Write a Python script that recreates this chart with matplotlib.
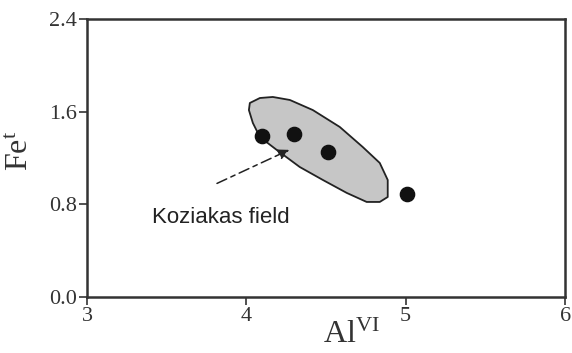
import matplotlib
matplotlib.use('Agg')
import matplotlib.pyplot as plt
from matplotlib.patches import Polygon

plt.rcParams['mathtext.fontset'] = 'custom'
plt.rcParams['mathtext.rm'] = 'Liberation Serif'
plt.rcParams['mathtext.it'] = 'Liberation Serif'

# sample points (Al VI vs Fe total)
al_vi = [4.10, 4.30, 4.51, 5.01]
fe_t = [1.39, 1.41, 1.25, 0.89]

# outline of the Koziakas field
field_x = [4.022, 4.085, 4.166, 4.273, 4.417, 4.586, 4.730, 4.837, 4.887, 4.887,
           4.837, 4.755, 4.630, 4.480, 4.335, 4.191, 4.085, 4.041, 4.016]
field_y = [1.675, 1.718, 1.727, 1.701, 1.614, 1.468, 1.295, 1.157, 1.010, 0.863,
           0.820, 0.820, 0.898, 1.010, 1.122, 1.269, 1.381, 1.502, 1.614]

x_ticks = [3, 4, 5, 6]
y_ticks = [0.0, 0.8, 1.6, 2.4]

fig = plt.figure(figsize=(5.72, 3.53), dpi=100)
ax = fig.add_axes([0.152, 0.159, 0.836, 0.787])

field = Polygon(list(zip(field_x, field_y)), closed=True, facecolor='#c6c6c6',
                edgecolor='#222222', linewidth=1.3, joinstyle='round', zorder=1)
ax.add_patch(field)
ax.scatter(al_vi, fe_t, s=105, color='#111111', zorder=3)

ax.annotate('', xy=(4.285, 1.28), xytext=(3.80, 0.97),
            arrowprops=dict(arrowstyle='-|>', color='#222222', linestyle=(0, (7, 3, 3, 3)),
                            linewidth=1.1, mutation_scale=16))
ax.text(3.41, 0.69, 'Koziakas field', fontsize=16, family='Liberation Sans',
        color='#222222', va='center')

ax.set_xlim(3, 6)
ax.set_ylim(0, 2.4)
ax.set_xticks(x_ticks)
ax.set_yticks(y_ticks)
ax.set_xticklabels([str(v) for v in x_ticks], family='Liberation Serif', fontsize=16)
ax.set_yticklabels(['%.1f' % v for v in y_ticks], family='Liberation Serif', fontsize=16)
ax.tick_params(direction='out', length=6, width=1.2, colors='#333333', pad=1)
for s in ax.spines.values():
    s.set_linewidth(1.8)
    s.set_color('#333333')

ax.set_ylabel(r'Fe$^{\mathrm{t}}$', family='Liberation Serif', fontsize=23,
              color='#333333')
ax.yaxis.set_label_coords(-0.109, 0.525)
ax.set_xlabel(r'Al$^{\mathrm{VI}}$', family='Liberation Serif', fontsize=23,
              color='#333333')
ax.xaxis.set_label_coords(0.554, -0.085)

fig.savefig('out.png', dpi=100)
